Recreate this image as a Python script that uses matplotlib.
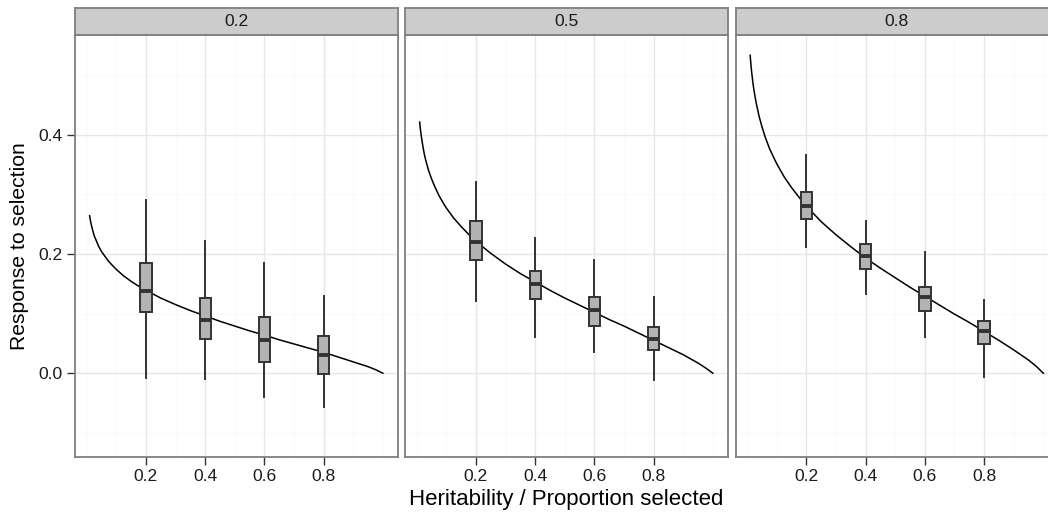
import matplotlib
matplotlib.use("Agg")
import matplotlib.pyplot as plt

plt.rcParams['font.family'] = ['Liberation Sans', 'DejaVu Sans']

# Facet labels (heritability)
heritability = ["0.2", "0.5", "0.8"]

# Expected response curve, sampled along proportion selected
prop_grid = [0.01, 0.0125, 0.015, 0.02, 0.025, 0.03, 0.04, 0.05, 0.06, 0.075, 0.09,
             0.1, 0.125, 0.15, 0.175, 0.2, 0.25, 0.3, 0.35, 0.4, 0.45, 0.5, 0.55,
             0.6, 0.65, 0.7, 0.75, 0.8, 0.85, 0.9, 0.95, 0.975, 1.0]
curve_h02 = [0.264, 0.256, 0.250, 0.240, 0.231, 0.225, 0.213, 0.204, 0.197, 0.187, 0.179,
             0.174, 0.163, 0.154, 0.146, 0.139, 0.126, 0.115, 0.105, 0.096, 0.087, 0.079,
             0.071, 0.064, 0.056, 0.049, 0.042, 0.035, 0.027, 0.019, 0.011, 0.006, 0.0]
curve_h05 = [0.421, 0.409, 0.399, 0.383, 0.369, 0.358, 0.340, 0.326, 0.314, 0.298, 0.285,
             0.277, 0.260, 0.246, 0.233, 0.221, 0.201, 0.183, 0.167, 0.153, 0.139, 0.126,
             0.114, 0.102, 0.090, 0.079, 0.067, 0.055, 0.043, 0.031, 0.017, 0.009, 0.0]
curve_h08 = [0.533, 0.518, 0.505, 0.484, 0.468, 0.454, 0.431, 0.413, 0.397, 0.377, 0.361,
             0.351, 0.329, 0.311, 0.295, 0.280, 0.254, 0.232, 0.212, 0.193, 0.176, 0.160,
             0.144, 0.129, 0.114, 0.099, 0.085, 0.070, 0.055, 0.039, 0.022, 0.012, 0.0]
curves = [curve_h02, curve_h05, curve_h08]

# Simulated responses: box summaries at each proportion selected
prop_selected = [0.2, 0.4, 0.6, 0.8]
whislo = [[-0.008, -0.010, -0.040, -0.056],
          [0.121, 0.060, 0.035, -0.011],
          [0.211, 0.133, 0.060, -0.006]]
q1 = [[0.103, 0.058, 0.018, -0.001],
      [0.189, 0.125, 0.079, 0.039],
      [0.259, 0.174, 0.105, 0.049]]
med = [[0.137, 0.090, 0.055, 0.031],
       [0.220, 0.149, 0.106, 0.057],
       [0.281, 0.196, 0.127, 0.070]]
q3 = [[0.184, 0.126, 0.095, 0.063],
      [0.256, 0.172, 0.127, 0.077],
      [0.303, 0.217, 0.144, 0.088]]
whishi = [[0.291, 0.222, 0.185, 0.130],
          [0.320, 0.226, 0.189, 0.128],
          [0.366, 0.255, 0.203, 0.122]]

x_ticks = [0.2, 0.4, 0.6, 0.8]
x_minor = [0.0, 0.1, 0.3, 0.5, 0.7, 0.9, 1.0]
y_ticks = [0.0, 0.2, 0.4]
y_minor = [-0.1, 0.1, 0.3, 0.5]

W, H = 1048, 514
fig = plt.figure(figsize=(W / 100, H / 100), dpi=100)

panel_lefts = [75, 405, 735.5]
panel_w = 322.5
panel_top, panel_bottom = 35, 456.7
strip_top = 8

tick_size = 12.6
border_col = "#7F7F7F"
for k in range(3):
    left = panel_lefts[k]
    ax = fig.add_axes([left / W, (H - panel_bottom) / H, panel_w / W,
                       (panel_bottom - panel_top) / H])
    ax.set_xlim(-0.0395, 1.0495)
    ax.set_ylim(-0.140, 0.567)
    ax.set_facecolor("white")

    for v in x_minor:
        ax.axvline(v, color="#FAFAFA", lw=0.9, zorder=0)
    for v in y_minor:
        ax.axhline(v, color="#FAFAFA", lw=0.9, zorder=0)
    for v in x_ticks:
        ax.axvline(v, color="#E6E6E6", lw=1.0, zorder=0.5)
    for v in y_ticks:
        ax.axhline(v, color="#E6E6E6", lw=1.0, zorder=0.5)

    ax.plot(prop_grid, curves[k], color="black", lw=1.1, zorder=2,
            solid_joinstyle="round")

    stats = []
    for j in range(4):
        stats.append(dict(med=med[k][j], q1=q1[k][j], q3=q3[k][j],
                          whislo=whislo[k][j], whishi=whishi[k][j], fliers=[]))
    ax.bxp(stats, positions=prop_selected, widths=0.038, patch_artist=True,
           showcaps=False, showfliers=False, manage_ticks=False,
           boxprops=dict(facecolor="#B3B3B3", edgecolor="#333333", linewidth=1.4),
           medianprops=dict(color="#333333", linewidth=2.8, solid_capstyle="butt"),
           whiskerprops=dict(color="#333333", linewidth=1.4),
           zorder=3)

    for s in ax.spines.values():
        s.set_color(border_col)
        s.set_linewidth(1.3)
        s.set_zorder(5)

    ax.set_xticks(x_ticks)
    ax.set_xticklabels([f"{v:.1f}" for v in x_ticks])
    ax.set_yticks(y_ticks)
    if k == 0:
        ax.set_yticklabels([f"{v:.1f}" for v in y_ticks])
        ax.tick_params(axis="y", length=6, width=1.0, color="#333333",
                       labelsize=tick_size, pad=3, labelcolor="#1A1A1A")
    else:
        ax.tick_params(axis="y", left=False, labelleft=False)
    ax.tick_params(axis="x", length=6, width=1.0, color="#333333",
                   labelsize=tick_size, pad=3, labelcolor="#1A1A1A")

    # facet strip
    sax = fig.add_axes([left / W, (H - panel_top) / H, panel_w / W,
                        (panel_top - strip_top) / H])
    sax.set_xlim(0, 1)
    sax.set_ylim(0, 1)
    sax.set_facecolor("#CCCCCC")
    sax.set_xticks([])
    sax.set_yticks([])
    for s in sax.spines.values():
        s.set_color(border_col)
        s.set_linewidth(1.3)
    sax.text(0.5, 0.5, heritability[k], ha="center", va="center",
             fontsize=tick_size, color="#1A1A1A")

fig.text((75 + 735.5 + panel_w) / 2 / W, (H - 500) / H,
         "Heritability / Proportion selected", ha="center", va="center",
         fontsize=16, color="black")
fig.text(20 / W, (H - 246) / H, "Response to selection", ha="center",
         va="center", rotation=90, fontsize=15.2, color="black")

fig.savefig("out.png", dpi=100)
